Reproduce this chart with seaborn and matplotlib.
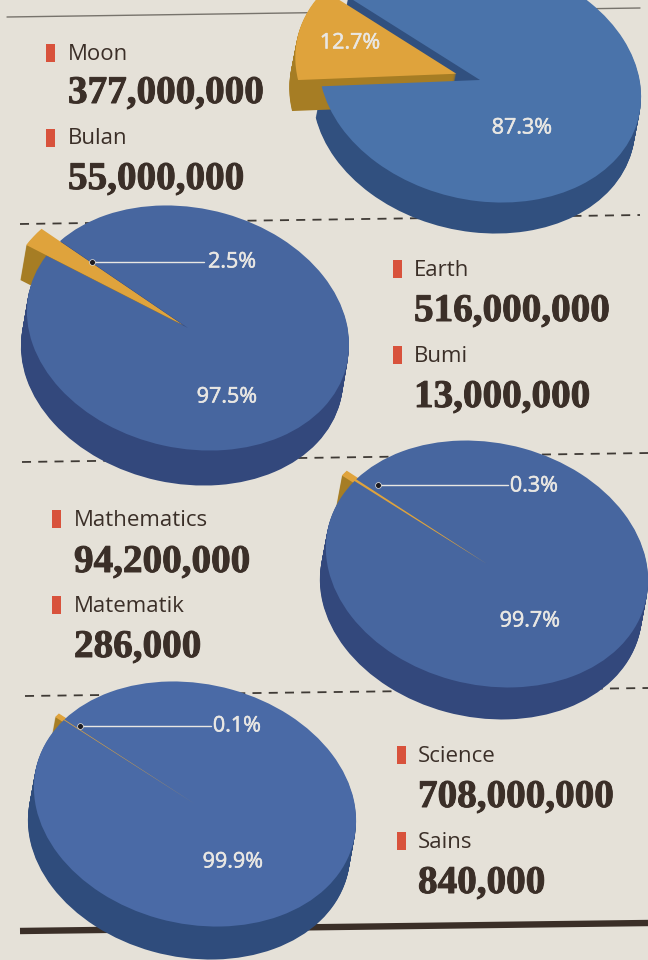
import matplotlib
matplotlib.use("Agg")
import matplotlib.pyplot as plt
import matplotlib.patheffects as pe
from matplotlib.patches import Rectangle
from matplotlib.transforms import Affine2D
import seaborn as sns

# Search-hit counts for four word pairs, English against Malay
english_terms = ["Moon", "Earth", "Mathematics", "Science"]
malay_terms = ["Bulan", "Bumi", "Matematik", "Sains"]
english_hits = [377000000, 516000000, 94200000, 708000000]
malay_hits = [55000000, 13000000, 286000, 840000]
english_pct = [87.3, 97.5, 99.7, 99.9]
malay_pct = [12.7, 2.5, 0.3, 0.1]

PAPER = "#e5e1d8"
INK = "#3b2f28"
RED = "#d8523c"
BLUE_TOP = ["#4a73aa", "#47669f", "#47669f", "#4a6aa6"]
BLUE_SIDE = ["#31507f", "#33487c", "#33487c", "#2f4c7c"]
ORANGE_TOP = "#dfa33c"
ORANGE_SIDE = "#a67d24"

sns.set_theme(style="white", rc={"figure.facecolor": PAPER, "axes.facecolor": PAPER})
plt.rcParams["font.family"] = ["Open Sans", "DejaVu Sans"]

fig = plt.figure(figsize=(6.48, 9.6), dpi=100)
ax = fig.add_axes([0, 0, 1, 1])


def place(wedge, cx, cy, a, b, rot):
    """Map a unit-pie wedge onto a tilted ellipse in page coordinates (y grows downward)."""
    wedge.set_transform(Affine2D().scale(a, -b).rotate_deg(rot).translate(cx, cy) + ax.transData)


def slab(i, cx, cy, a, b, rot, mid_angle, explode, reach, depth, edge):
    share = [malay_pct[i], english_pct[i]]
    start = mid_angle - malay_pct[i] * 1.8
    # Side wall: the pie repeated downward with a slight leftward lean
    for dy in range(depth, 0, -1):
        dx = -6.0 * dy / depth
        wedges, _ = ax.pie(share, explode=[explode, 0], startangle=start,
                           colors=[ORANGE_SIDE, BLUE_SIDE[i]])
        place(wedges[0], cx + dx, cy + dy, a * reach, b * reach, rot)
        place(wedges[1], cx + dx, cy + dy, a, b, rot)
        wedges[0].set(zorder=3, linewidth=edge, edgecolor=ORANGE_SIDE)
        wedges[1].set(zorder=2, linewidth=0)
    wedges, _ = ax.pie(share, explode=[explode, 0], startangle=start,
                       colors=[ORANGE_TOP, BLUE_TOP[i]])
    place(wedges[0], cx, cy, a * reach, b * reach, rot)
    place(wedges[1], cx, cy, a, b, rot)
    wedges[0].set(zorder=4, linewidth=edge, edgecolor=ORANGE_TOP)
    wedges[1].set(zorder=5, linewidth=0)


slab(0, 480, 80, 163, 120, 13, 177.5, 0.15, 1.0, 31, 0)
slab(1, 188, 328, 163, 120, 13, 156.7, 0.03, 1.11, 35, 0)
slab(2, 487, 564, 163, 121, 13, 154.5, 0.01, 1.06, 32, 3)
slab(3, 195, 804, 163, 120, 13, 154.0, 0.01, 1.03, 33, 3)

ax.set_aspect("auto")
ax.set_xlim(0, 648)
ax.set_ylim(960, 0)
ax.axis("off")
fig.patch.set_facecolor(PAPER)

# Rules between the panels
ax.plot([7, 640], [17, 8], color="#77736c", lw=1.0, zorder=1)
for x0, y0, x1, y1 in [(20, 224, 640, 215), (22, 462, 648, 453), (25, 696, 648, 688)]:
    ax.plot([x0, x1], [y0, y1], color="#3f3a35", lw=1.3, dashes=(5, 4), zorder=1)
ax.plot([20, 648], [931, 923], color=INK, lw=4.6, zorder=1, solid_capstyle="butt")

# Term and count blocks
text_layout = [
    (46, 68, 53, 91, 138, 177),
    (393, 414, 269, 309, 355, 395),
    (52, 74, 519, 560, 605, 645),
    (397, 418, 755, 795, 841, 881),
]
bold_stroke = [pe.withStroke(linewidth=0.7, foreground=INK)]
for i, (bx, tx, y1, y2, y3, y4) in enumerate(text_layout):
    for term, count, ty, ny in [(english_terms[i], english_hits[i], y1, y2),
                                (malay_terms[i], malay_hits[i], y3, y4)]:
        ax.add_patch(Rectangle((bx, ty - 9), 8.5, 18, color=RED, lw=0, zorder=6))
        ax.text(tx, ty + 1, term, fontsize=16, color=INK, va="center", ha="left", zorder=7)
        ax.text(tx, ny + 2.5, f"{count:,}", fontsize=28.2, color=INK, va="center", ha="left",
                family="Liberation Serif", weight="bold", zorder=7, path_effects=bold_stroke)

# Percentage labels on the pies
WHITE = "#e9e7e3"
label_stroke = [pe.withStroke(linewidth=0.4, foreground=WHITE)]
label_layout = [
    ((350, 43), (522, 128)),
    ((232, 262), (227, 397)),
    ((534, 486), (530, 621)),
    ((237, 726), (233, 862)),
]
for i, (small_xy, big_xy) in enumerate(label_layout):
    ax.text(*small_xy, f"{malay_pct[i]}%", fontsize=15.5, color=WHITE, ha="center", va="center",
            zorder=8, path_effects=label_stroke)
    ax.text(*big_xy, f"{english_pct[i]}%", fontsize=15.5, color=WHITE, ha="center", va="center",
            zorder=8, path_effects=label_stroke)

# Leader lines from the thin slices to their labels
for x0, x1, y in [(92, 204, 261.5), (378, 508, 484.5), (80, 211, 725.5)]:
    ax.plot([x0, x1], [y, y], color=WHITE, lw=1.0, zorder=7)
    ax.plot([x0], [y], "o", ms=4.2, color="#1b1b22", mec=WHITE, mew=0.5, zorder=8)

fig.savefig("out.png", dpi=100, facecolor=PAPER)
